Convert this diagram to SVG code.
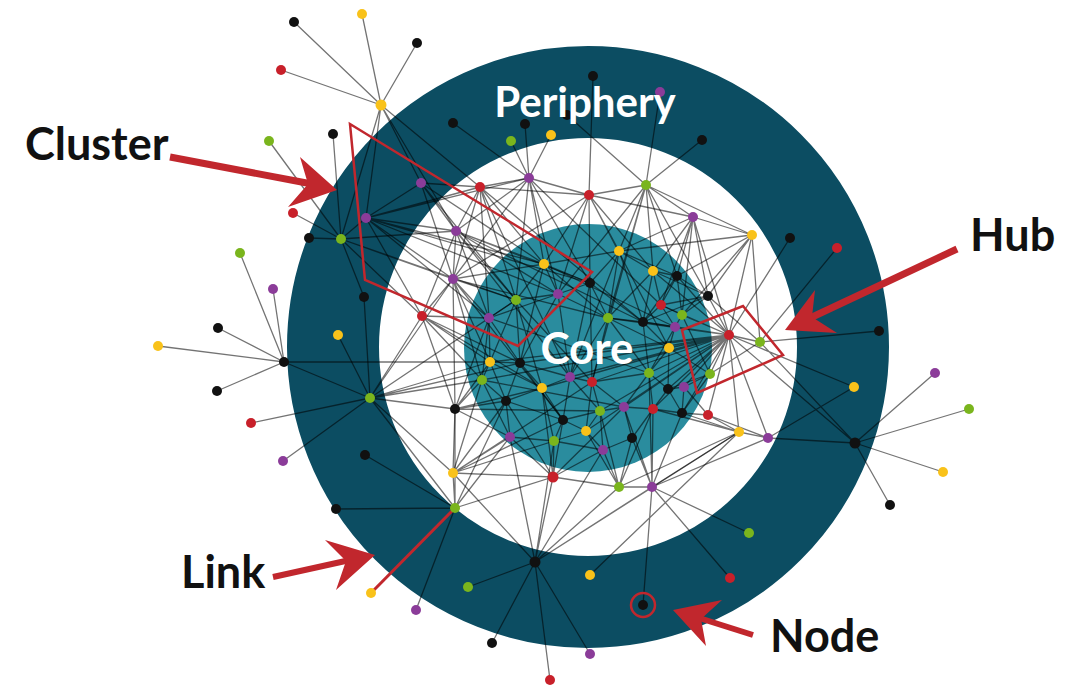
<svg xmlns="http://www.w3.org/2000/svg" width="1073" height="685" viewBox="0 0 1073 685">
<style>
.k{fill:#111}.r{fill:#c8202a}.y{fill:#f9c21a}.g{fill:#7ab51d}.p{fill:#8b3c99}
.lbl{font-family:Lato,"Open Sans","Liberation Sans",sans-serif;font-weight:700;font-size:45px;fill:#111}
.wl{font-family:Lato,"Open Sans","Liberation Sans",sans-serif;font-weight:700;fill:#fff;text-anchor:middle}
.red{fill:#c1272d}
</style>
<rect width="1073" height="685" fill="#fff"/>
<g id="rings">
<circle cx="588" cy="347" r="255" fill="none" stroke="#0c4d62" stroke-width="92"/>
<circle cx="588" cy="348" r="124" fill="#2a8c9e"/>
</g>
<g id="connectors" stroke="#000" stroke-opacity="0.55" stroke-width="1.3" fill="none">
<path d="M381 105L294 22M381 105L362 14M381 105L417 43M381 105L281 70M381 105L341 239M381 105L366 218M381 105L421 183M381 105L480 187M381 105L456 231"/>
<path d="M269 141L341 239M333 134L341 239M293 213L341 239M309 238L341 239M341 239L364 297M341 239L366 218M341 239L456 231M341 239L453 279M341 239L516 300M341 239L422 316"/>
<path d="M366 218L421 183M366 218L456 231M366 218L453 279M366 218L480 187M366 218L489 318M366 218L558 294M366 218L422 316M366 218L544 264M366 218L590 283M366 218L529 178"/>
<path d="M421 183L456 231M421 183L453 279M421 183L480 187M421 183L544 264M421 183L516 300"/>
<path d="M240 253L284 362M273 289L284 362M218 328L284 362M158 346L284 362M217 391L284 362M284 362L370 398M284 362L490 362"/>
<path d="M364 297L370 398M338 335L370 398M251 423L370 398M283 461L370 398M370 398L455 409M370 398L453 473M370 398L453 279M370 398L422 316M370 398L482 380M370 398L490 362M370 398L489 318M370 398L455 508M370 398L520 363M370 398L516 300"/>
<path d="M365 455L455 508M336 509L455 508M416 610L455 508M455 508L453 473M455 508L455 409M455 508L510 437M455 508L553 477M455 508L506 401"/>
<path d="M468 587L535 562M492 643L535 562M550 680L535 562M590 654L535 562M535 562L553 477M535 562L554 441M535 562L510 437M535 562L619 487M535 562L652 487M535 562L603 450M535 562L739 432M535 562L453 473"/>
<path d="M590 575L739 432M643 605L652 487M749 533L652 487M730 578L652 487"/>
<path d="M890 505L855 443M943 472L855 443M969 409L855 443M935 373L855 443M855 443L768 438M855 443L729 335M855 443L760 342M854 387L729 335M854 387L768 438M879 331L760 342M837 248L760 342M790 238L729 335"/>
<path d="M702 140L646 185M660 92L646 185M567 115L646 185M593 76L589 195M551 135L529 178M525 124L529 178M511 141L529 178M453 123L529 178M768 438L652 487"/>
<path d="M529 178L480 187M529 178L589 195M529 178L456 231M529 178L544 264M529 178L558 294M529 178L516 300M529 178L453 279M529 178L590 283M529 178L661 305"/>
<path d="M480 187L456 231M480 187L453 279M480 187L489 318M480 187L544 264M480 187L589 195M480 187L516 300M480 187L570 377M480 187L643 322"/>
<path d="M589 195L646 185M589 195L619 251M589 195L544 264M589 195L590 283M589 195L558 294M589 195L453 279M589 195L653 271M589 195L693 217M589 195L669 348"/>
<path d="M646 185L693 217M646 185L752 235M646 185L619 251M646 185L653 271M646 185L608 318M646 185L677 276M646 185L558 294M646 185L708 296M646 185L592 382"/>
<path d="M693 217L752 235M693 217L653 271M693 217L677 276M693 217L708 296M693 217L619 251M693 217L661 305M693 217L729 335M693 217L682 315"/>
<path d="M752 235L708 296M752 235L729 335M752 235L677 276M752 235L682 315M752 235L760 342M752 235L619 251"/>
<path d="M456 231L453 279M456 231L544 264M456 231L516 300M456 231L489 318M456 231L422 316M456 231L558 294M456 231L590 283M456 231L570 377M456 231L643 322"/>
<path d="M453 279L422 316M453 279L489 318M453 279L516 300M453 279L490 362M453 279L544 264M453 279L455 409M453 279L482 380M453 279L608 318M453 279L563 420"/>
<path d="M422 316L489 318M422 316L455 409M422 316L490 362M422 316L482 380M422 316L520 363M422 316L542 388"/>
<path d="M455 409L453 473M455 409L490 362M455 409L482 380M455 409L506 401M455 409L510 437M455 409L489 318M455 409L542 388M455 409L600 411"/>
<path d="M453 473L553 477M453 473L510 437M453 473L506 401M453 473L482 380M453 473L554 441M453 473L592 382M453 473L563 420"/>
<path d="M553 477L619 487M553 477L510 437M553 477L554 441M553 477L563 420M553 477L603 450M553 477L506 401M553 477L542 388M553 477L624 407"/>
<path d="M619 487L652 487M619 487L603 450M619 487L586 431M619 487L632 438M619 487L600 411M619 487L739 432M619 487L653 409"/>
<path d="M652 487L653 409M652 487L632 438M652 487L739 432M652 487L682 413M652 487L624 407M652 487L649 373"/>
<path d="M768 438L729 335M768 438L739 432M768 438L708 415M739 432L729 335M739 432L708 415M739 432L682 413M739 432L653 409M708 415L729 335M708 415L682 413M708 415L684 387M760 342L729 335M760 342L708 296M760 342L710 374"/>
<path d="M729 335L669 348M729 335L675 327M729 335L682 315M729 335L661 305M729 335L643 322M729 335L710 374M729 335L668 389M729 335L684 387M729 335L649 373M729 335L608 318M729 335L677 276M729 335L708 296M729 335L682 413M729 335L570 377M729 335L520 363M729 335L653 271M729 335L653 409M729 335L592 382M729 335L542 388M729 335L490 362M729 335L624 407M729 335L600 411M729 335L482 380M729 335L586 431"/>
<path d="M708 296L677 276M708 296L682 315M708 296L653 271M708 296L661 305M708 296L643 322"/>
<path d="M619 251L653 271M619 251L590 283M619 251L608 318M619 251L544 264M619 251L643 322M619 251L677 276M619 251L570 377"/>
<path d="M544 264L590 283M544 264L558 294M544 264L516 300M544 264L608 318M544 264L520 363M544 264L675 327"/>
<path d="M653 271L677 276M653 271L643 322M653 271L661 305M653 271L608 318M677 276L661 305M677 276L682 315M677 276L643 322"/>
<path d="M590 283L558 294M590 283L608 318M590 283L643 322M590 283L570 377M590 283L592 382"/>
<path d="M558 294L516 300M558 294L489 318M558 294L520 363M558 294L570 377M558 294L608 318"/>
<path d="M516 300L489 318M516 300L520 363M516 300L490 362M516 300L542 388M516 300L592 382M489 318L490 362M489 318L482 380M489 318L520 363M489 318L649 373"/>
<path d="M608 318L643 322M608 318L649 373M608 318L592 382M608 318L570 377M608 318L669 348M643 322L661 305M643 322L675 327M643 322L649 373M643 322L669 348"/>
<path d="M661 305L682 315M661 305L675 327M682 315L675 327M682 315L710 374M675 327L669 348M675 327L649 373M669 348L649 373M669 348L668 389M669 348L710 374"/>
<path d="M490 362L520 363M490 362L482 380M490 362L542 388M490 362L506 401M520 363L542 388M520 363L570 377M520 363L506 401M520 363L563 420M482 380L506 401M482 380L510 437M482 380L624 407"/>
<path d="M570 377L592 382M570 377L542 388M570 377L600 411M570 377L563 420M592 382L649 373M592 382L600 411M592 382L624 407M592 382L586 431"/>
<path d="M649 373L668 389M649 373L624 407M649 373L653 409M542 388L506 401M542 388L563 420M542 388L554 441"/>
<path d="M710 374L684 387M710 374L682 413M710 374L668 389M668 389L684 387M668 389L653 409M668 389L682 413M684 387L682 413"/>
<path d="M506 401L510 437M506 401L563 420M600 411L624 407M600 411L586 431M600 411L563 420M600 411L603 450M624 407L653 409M624 407L632 438M653 409L682 413M653 409L632 438"/>
<path d="M563 420L586 431M563 420L554 441M586 431L603 450M586 431L554 441M632 438L603 450M510 437L554 441M554 441L603 450"/>
</g>
<g id="link-highlight"><path d="M455 508L371 593" stroke="#c1272d" stroke-width="3" fill="none"/></g>
<g id="nodes">
<g id="n1"><circle cx="381" cy="105" r="5.5" class="y"/></g>
<g id="n2"><circle cx="294" cy="22" r="5" class="k"/></g>
<g id="n3"><circle cx="362" cy="14" r="5" class="y"/></g>
<g id="n4"><circle cx="417" cy="43" r="5" class="k"/></g>
<g id="n5"><circle cx="281" cy="70" r="5" class="r"/></g>
<g id="n6"><circle cx="269" cy="141" r="5" class="g"/></g>
<g id="n7"><circle cx="333" cy="134" r="5" class="k"/></g>
<g id="n8"><circle cx="293" cy="213" r="5" class="r"/></g>
<g id="n9"><circle cx="309" cy="238" r="5" class="k"/></g>
<g id="n10"><circle cx="341" cy="239" r="5" class="g"/></g>
<g id="n11"><circle cx="366" cy="218" r="5" class="p"/></g>
<g id="n12"><circle cx="421" cy="183" r="5" class="p"/></g>
<g id="n13"><circle cx="240" cy="253" r="5" class="g"/></g>
<g id="n14"><circle cx="273" cy="289" r="5" class="p"/></g>
<g id="n15"><circle cx="364" cy="297" r="5" class="k"/></g>
<g id="n16"><circle cx="338" cy="335" r="5" class="y"/></g>
<g id="n17"><circle cx="218" cy="328" r="5" class="k"/></g>
<g id="n18"><circle cx="158" cy="346" r="5" class="y"/></g>
<g id="n19"><circle cx="284" cy="362" r="5" class="k"/></g>
<g id="n20"><circle cx="217" cy="391" r="5" class="k"/></g>
<g id="n21"><circle cx="370" cy="398" r="5" class="g"/></g>
<g id="n22"><circle cx="251" cy="423" r="5" class="r"/></g>
<g id="n23"><circle cx="283" cy="461" r="5" class="p"/></g>
<g id="n24"><circle cx="365" cy="455" r="5" class="k"/></g>
<g id="n25"><circle cx="336" cy="509" r="5" class="k"/></g>
<g id="n26"><circle cx="455" cy="508" r="5" class="g"/></g>
<g id="n27"><circle cx="371" cy="593" r="5" class="y"/></g>
<g id="n28"><circle cx="416" cy="610" r="5" class="p"/></g>
<g id="n29"><circle cx="468" cy="587" r="5" class="g"/></g>
<g id="n30"><circle cx="535" cy="562" r="5.5" class="k"/></g>
<g id="n31"><circle cx="492" cy="643" r="5" class="k"/></g>
<g id="n32"><circle cx="550" cy="680" r="5" class="r"/></g>
<g id="n33"><circle cx="590" cy="654" r="5" class="p"/></g>
<g id="n34"><circle cx="590" cy="575" r="5" class="y"/></g>
<g id="n35"><circle cx="643" cy="605" r="5" class="k"/></g>
<g id="n36"><circle cx="749" cy="533" r="5" class="g"/></g>
<g id="n37"><circle cx="730" cy="578" r="5" class="r"/></g>
<g id="n38"><circle cx="890" cy="505" r="5" class="k"/></g>
<g id="n39"><circle cx="943" cy="472" r="5" class="y"/></g>
<g id="n40"><circle cx="969" cy="409" r="5" class="g"/></g>
<g id="n41"><circle cx="935" cy="373" r="5" class="p"/></g>
<g id="n42"><circle cx="855" cy="443" r="5.5" class="k"/></g>
<g id="n43"><circle cx="854" cy="387" r="5" class="y"/></g>
<g id="n44"><circle cx="879" cy="331" r="5" class="k"/></g>
<g id="n45"><circle cx="837" cy="248" r="5" class="r"/></g>
<g id="n46"><circle cx="790" cy="238" r="5" class="k"/></g>
<g id="n47"><circle cx="702" cy="140" r="5" class="k"/></g>
<g id="n48"><circle cx="660" cy="92" r="5" class="p"/></g>
<g id="n49"><circle cx="593" cy="76" r="5" class="k"/></g>
<g id="n50"><circle cx="567" cy="115" r="5" class="k"/></g>
<g id="n51"><circle cx="551" cy="135" r="5" class="y"/></g>
<g id="n52"><circle cx="525" cy="124" r="5" class="k"/></g>
<g id="n53"><circle cx="511" cy="141" r="5" class="g"/></g>
<g id="n54"><circle cx="453" cy="123" r="5" class="k"/></g>
<g id="m1"><circle cx="529" cy="178" r="5" class="p"/></g>
<g id="m2"><circle cx="480" cy="187" r="5" class="r"/></g>
<g id="m3"><circle cx="589" cy="195" r="5" class="r"/></g>
<g id="m4"><circle cx="646" cy="185" r="5" class="g"/></g>
<g id="m5"><circle cx="693" cy="217" r="5" class="p"/></g>
<g id="m6"><circle cx="752" cy="235" r="5" class="y"/></g>
<g id="m7"><circle cx="456" cy="231" r="5" class="p"/></g>
<g id="m8"><circle cx="453" cy="279" r="5" class="p"/></g>
<g id="m9"><circle cx="422" cy="316" r="5" class="r"/></g>
<g id="m10"><circle cx="455" cy="409" r="5" class="k"/></g>
<g id="m11"><circle cx="453" cy="473" r="5" class="y"/></g>
<g id="m12"><circle cx="553" cy="477" r="5.5" class="r"/></g>
<g id="m13"><circle cx="619" cy="487" r="5" class="g"/></g>
<g id="m14"><circle cx="652" cy="487" r="5" class="p"/></g>
<g id="m15"><circle cx="768" cy="438" r="5" class="p"/></g>
<g id="m16"><circle cx="739" cy="432" r="5" class="y"/></g>
<g id="m17"><circle cx="708" cy="415" r="5" class="r"/></g>
<g id="m18"><circle cx="760" cy="342" r="5" class="g"/></g>
<g id="m19"><circle cx="729" cy="335" r="5" class="r"/></g>
<g id="m20"><circle cx="708" cy="296" r="5" class="k"/></g>
<g id="c1"><circle cx="619" cy="251" r="5" class="y"/></g>
<g id="c2"><circle cx="544" cy="264" r="5" class="y"/></g>
<g id="c3"><circle cx="653" cy="271" r="5" class="y"/></g>
<g id="c4"><circle cx="677" cy="276" r="5" class="k"/></g>
<g id="c5"><circle cx="590" cy="283" r="5" class="k"/></g>
<g id="c6"><circle cx="558" cy="294" r="5" class="p"/></g>
<g id="c7"><circle cx="516" cy="300" r="5" class="g"/></g>
<g id="c8"><circle cx="489" cy="318" r="5" class="p"/></g>
<g id="c9"><circle cx="608" cy="318" r="5" class="g"/></g>
<g id="c10"><circle cx="643" cy="322" r="5" class="k"/></g>
<g id="c11"><circle cx="661" cy="305" r="5" class="r"/></g>
<g id="c12"><circle cx="682" cy="315" r="5" class="g"/></g>
<g id="c13"><circle cx="675" cy="327" r="5" class="p"/></g>
<g id="c14"><circle cx="669" cy="348" r="5" class="y"/></g>
<g id="c15"><circle cx="490" cy="362" r="5" class="y"/></g>
<g id="c16"><circle cx="520" cy="363" r="5" class="k"/></g>
<g id="c17"><circle cx="482" cy="380" r="5" class="g"/></g>
<g id="c18"><circle cx="570" cy="377" r="5" class="p"/></g>
<g id="c19"><circle cx="592" cy="382" r="5" class="r"/></g>
<g id="c20"><circle cx="649" cy="373" r="5" class="g"/></g>
<g id="c21"><circle cx="542" cy="388" r="5" class="y"/></g>
<g id="c22"><circle cx="710" cy="374" r="5" class="g"/></g>
<g id="c23"><circle cx="668" cy="389" r="5" class="k"/></g>
<g id="c24"><circle cx="684" cy="387" r="5" class="p"/></g>
<g id="c25"><circle cx="506" cy="401" r="5" class="k"/></g>
<g id="c26"><circle cx="600" cy="411" r="5" class="g"/></g>
<g id="c27"><circle cx="624" cy="407" r="5" class="p"/></g>
<g id="c28"><circle cx="653" cy="409" r="5" class="r"/></g>
<g id="c29"><circle cx="682" cy="413" r="5" class="k"/></g>
<g id="c30"><circle cx="563" cy="420" r="5" class="k"/></g>
<g id="c31"><circle cx="586" cy="431" r="5" class="y"/></g>
<g id="c32"><circle cx="632" cy="438" r="5" class="k"/></g>
<g id="c33"><circle cx="510" cy="437" r="5" class="p"/></g>
<g id="c34"><circle cx="554" cy="441" r="5" class="g"/></g>
<g id="c35"><circle cx="603" cy="450" r="5" class="p"/></g>
</g>
<g id="highlights" fill="none" stroke="#c1272d" stroke-width="2.5" stroke-linejoin="miter">
<polygon id="cluster-outline" points="350,124 592,272 518,346 365,280"/>
<polygon id="hub-outline" points="682,330 743,306 783,355 697,393"/>
<circle id="node-ring" cx="643" cy="605" r="12"/>
</g>
<g id="region-labels">
<text class="wl" x="585" y="117" font-size="42">Periphery</text>
<text class="wl" x="587" y="364" font-size="44">Core</text>
</g>
<g id="callout-cluster">
<text class="lbl" x="25" y="160">Cluster</text>
<path d="M170 157L312 184" stroke="#c1272d" stroke-width="7" fill="none"/>
<polygon class="red" points="337,190 300,157 308,184 288,207"/>
</g>
<g id="callout-hub">
<text class="lbl" x="970" y="251">Hub</text>
<path d="M957 249L808 319" stroke="#c1272d" stroke-width="7" fill="none"/>
<polygon class="red" points="785,330 815,290 812,317 837,333"/>
</g>
<g id="callout-link">
<text class="lbl" x="181" y="588">Link</text>
<path d="M273 577L350 560" stroke="#c1272d" stroke-width="6" fill="none"/>
<polygon class="red" points="375,555 325,540 346,561 336,590"/>
</g>
<g id="callout-node">
<text class="lbl" x="770" y="652">Node</text>
<path d="M753 635L696 617" stroke="#c1272d" stroke-width="6" fill="none"/>
<polygon class="red" points="673,610 722,600 701,619 706,646"/>
</g>
</svg>
